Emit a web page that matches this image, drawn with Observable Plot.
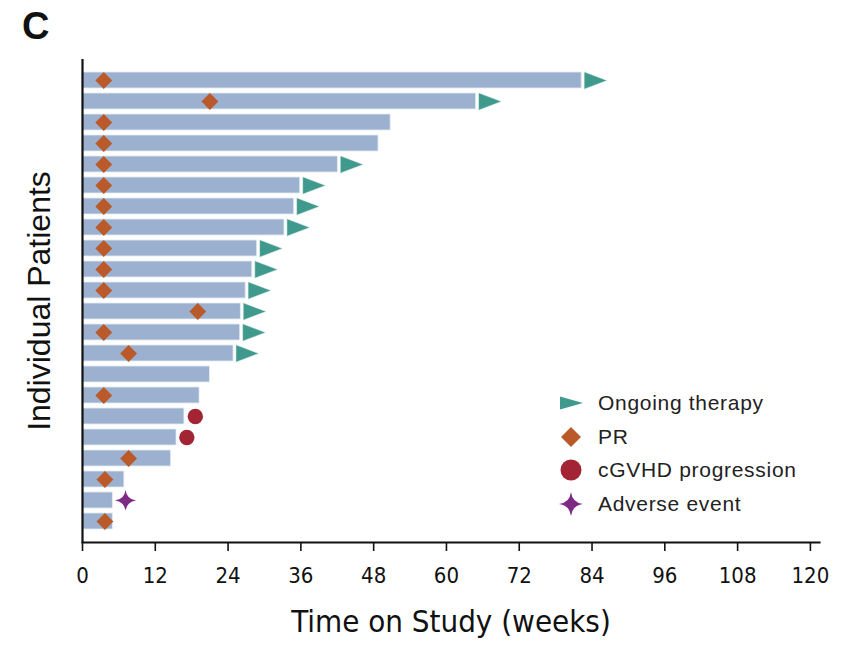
<!DOCTYPE html>
<html>
<head>
<meta charset="utf-8">
<script src="https://cdn.jsdelivr.net/npm/d3@7"></script>
<script src="https://cdn.jsdelivr.net/npm/@observablehq/plot@0.6"></script>
<style>
  html, body { margin: 0; padding: 0; background: #fff; }
  #wrap { position: relative; width: 853px; height: 650px; overflow: hidden; }
  #panel { position: absolute; left: 22px; top: 5px; font: bold 38px "Liberation Sans", Arial, sans-serif; color: #111; }
  #legend { position: absolute; left: 556px; top: 386px; font: 21px "Liberation Sans", Arial, sans-serif; color: #222; letter-spacing: 0.7px; }
  #legend .row { display: flex; align-items: center; height: 33.8px; }
  #legend svg { width: 30px; height: 28px; margin-right: 12px; overflow: visible; }
  .condensed { font-stretch: condensed; }
</style>
</head>
<body>
<div id="wrap">
  <div id="chart"></div>
  <div id="panel">C</div>
  <div id="legend"></div>
</div>
<script>
// ---- data ----
const patientIds = ["P1","P2","P3","P4","P5","P6","P7","P8","P9","P10","P11",
                    "P12","P13","P14","P15","P16","P17","P18","P19","P20","P21","P22"];
const weeksOnStudy = [82.3, 64.9, 50.8, 48.8, 42.1, 35.9, 34.9, 33.3, 28.8, 28.0, 26.9,
                      26.1, 26.0, 24.9, 21.0, 19.3, 16.8, 15.5, 14.6, 6.9, 5.0, 5.0];
const ongoingTherapy = [true, true, false, false, true, true, true, true, true, true, true,
                        true, true, true, false, false, false, false, false, false, false, false];
const prWeek = [3.5, 21.0, 3.5, 3.5, 3.5, 3.5, 3.5, 3.5, 3.5, 3.5, 3.5,
                19.0, 3.5, 7.6, null, 3.5, null, null, 7.6, 3.7, null, 3.7];
const progressionWeek = [null, null, null, null, null, null, null, null, null, null, null,
                         null, null, null, null, null, 18.6, 17.2, null, null, null, null];
const adverseEventWeek = [null, null, null, null, null, null, null, null, null, null, null,
                          null, null, null, null, null, null, null, null, null, 7.1, null];
const xTicks = [0, 12, 24, 36, 48, 60, 72, 84, 96, 108, 120];
const legendLabels = ["Ongoing therapy", "PR", "cGVHD progression", "Adverse event"];

// ---- colours ----
const barColor = "#9BB1CF";
const teal = "#3F9A8D";
const orange = "#BA5A2B";
const red = "#A32535";
const purple = "#7E2A84";

const rows = patientIds.map((id, i) => ({
  id, weeks: weeksOnStudy[i], ongoing: ongoingTherapy[i],
  pr: prWeek[i], prog: progressionWeek[i], ae: adverseEventWeek[i]
}));

// custom symbols
const triangleRight = {
  draw(ctx) { ctx.moveTo(0, -8.7); ctx.lineTo(23, 0); ctx.lineTo(0, 8.7); ctx.closePath(); }
};
const sparkle = {
  draw(ctx) {
    const a = 10.5, c = 1.2;
    ctx.moveTo(0, -a);
    ctx.quadraticCurveTo(c, -c, a, 0);
    ctx.quadraticCurveTo(c, c, 0, a);
    ctx.quadraticCurveTo(-c, c, -a, 0);
    ctx.quadraticCurveTo(-c, -c, 0, -a);
    ctx.closePath();
  }
};

const tickFont = "'DejaVu Sans Condensed', 'DejaVu Sans', sans-serif";

const chart = Plot.plot({
  width: 853,
  height: 650,
  marginLeft: 82,
  marginRight: 34,
  marginTop: 59,
  marginBottom: 108,
  style: { fontFamily: "'Liberation Sans', Arial, sans-serif", background: "white", color: "#111", overflow: "visible" },
  x: { domain: [0, 121.5] },
  y: { domain: patientIds, padding: 0.22, insetTop: 8, insetBottom: 7, axis: null },
  marks: [
    Plot.barX(rows, { y: "id", x: "weeks", fill: barColor, stroke: "#e4ebf3", strokeWidth: 0.8 }),
    Plot.dot(rows.filter(d => d.ongoing), { x: "weeks", y: "id", symbol: triangleRight, fill: teal, stroke: "#e8f2f0", strokeWidth: 0.6, dx: 2.4 }),
    Plot.dot(rows.filter(d => d.pr != null), { x: "pr", y: "id", symbol: "diamond2", r: 7.6, fill: orange }),
    Plot.dot(rows.filter(d => d.prog != null), { x: "prog", y: "id", symbol: "circle", r: 7.7, fill: red }),
    Plot.dot(rows.filter(d => d.ae != null), { x: "ae", y: "id", symbol: sparkle, fill: purple }),
    Plot.ruleX([0], { stroke: "#111", strokeWidth: 2.2 }),
    Plot.frame({ anchor: "bottom", stroke: "#111", strokeWidth: 2.2 }),
    Plot.axisX({ ticks: xTicks, tickSize: 9, tickPadding: 16, strokeWidth: 1.6, stroke: "#111",
                 fontSize: 22, fontFamily: tickFont, className: "condensed", label: null }),
    Plot.axisX({ ticks: [], tickSize: 0, label: "Time on Study (weeks)", labelAnchor: "center", labelArrow: false,
                 labelOffset: 89, fontSize: 31, fontFamily: tickFont, className: "condensed" }),
    Plot.axisY({ ticks: [], tickSize: 0, label: "Individual Patients", labelAnchor: "center", labelArrow: false,
                 labelOffset: 55, fontSize: 32 })
  ]
});
document.getElementById("chart").appendChild(chart);

// ---- legend (HTML) ----
const legendIcons = [
  `<svg viewBox="-15 -14 30 28"><path d="M-11,-6.5 L12,0 L-11,6.5 Z" fill="${teal}"/></svg>`,
  `<svg viewBox="-15 -14 30 28"><path d="M0,-10 L10,0 L0,10 L-10,0 Z" fill="${orange}"/></svg>`,
  `<svg viewBox="-15 -14 30 28"><circle r="10.5" fill="${red}"/></svg>`,
  `<svg viewBox="-15 -14 30 28"><path d="M0,-12 Q1.3,-1.3 12,0 Q1.3,1.3 0,12 Q-1.3,1.3 -12,0 Q-1.3,-1.3 0,-12 Z" fill="${purple}"/></svg>`
];
const legend = document.getElementById("legend");
legendLabels.forEach((lab, i) => {
  const row = document.createElement("div");
  row.className = "row";
  row.innerHTML = legendIcons[i] + `<span>${lab}</span>`;
  legend.appendChild(row);
});
</script>
</body>
</html>
